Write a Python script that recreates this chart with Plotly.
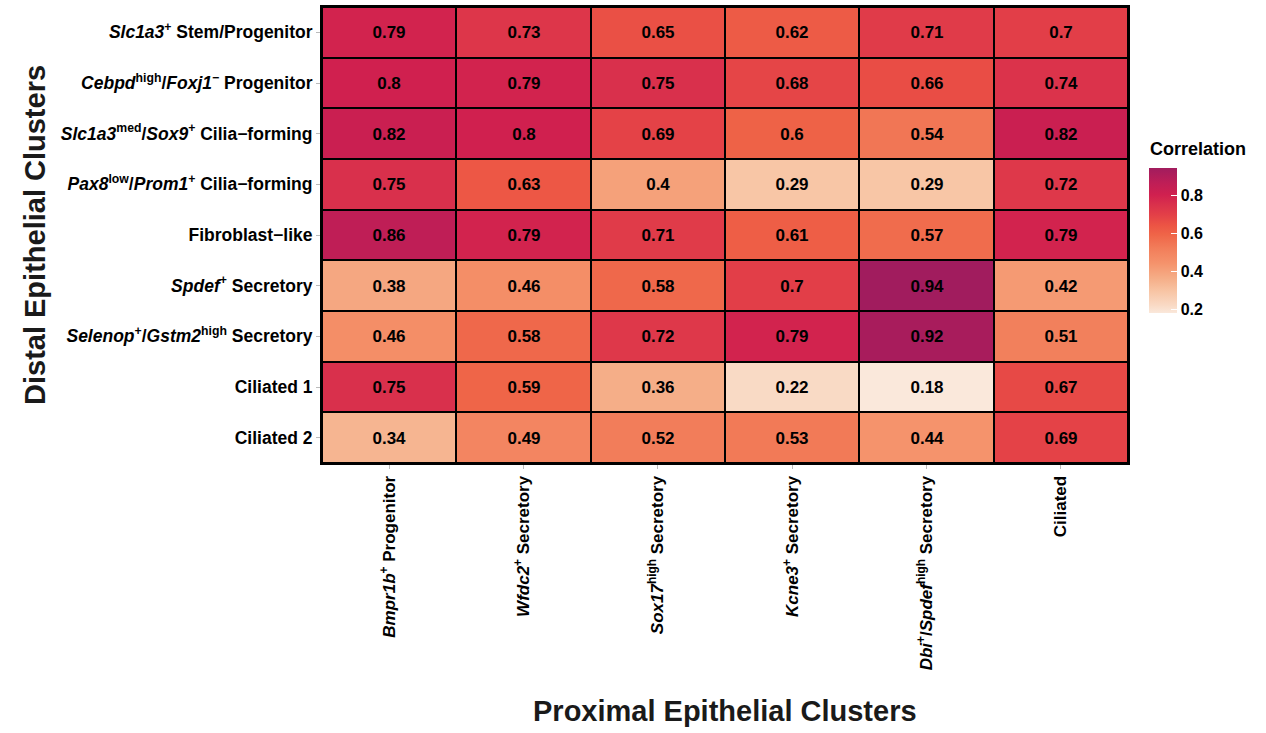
import plotly.graph_objects as go

# Proximal clusters (columns) and distal clusters (rows, top to bottom)
proximal = [
    "<i>Bmpr1b</i><sup>+</sup> Progenitor",
    "<i>Wfdc2</i><sup>+</sup> Secretory",
    "<i>Sox17</i><sup>high</sup> Secretory",
    "<i>Kcne3</i><sup>+</sup> Secretory",
    "<i>Dbi</i><sup>+</sup>/<i>Spdef</i><sup>high</sup> Secretory",
    "Ciliated",
]
distal = [
    "<i>Slc1a3</i><sup>+</sup> Stem/Progenitor",
    "<i>Cebpd</i><sup>high</sup>/<i>Foxj1</i><sup>\u2212</sup> Progenitor",
    "<i>Slc1a3</i><sup>med</sup>/<i>Sox9</i><sup>+</sup> Cilia\u2212forming",
    "<i>Pax8</i><sup>low</sup>/<i>Prom1</i><sup>+</sup> Cilia\u2212forming",
    "Fibroblast\u2212like",
    "<i>Spdef</i><sup>+</sup> Secretory",
    "<i>Selenop</i><sup>+</sup>/<i>Gstm2</i><sup>high</sup> Secretory",
    "Ciliated 1",
    "Ciliated 2",
]

# Correlation values, one list per distal cluster
corr_slc1a3 = [0.79, 0.73, 0.65, 0.62, 0.71, 0.7]
corr_cebpd = [0.8, 0.79, 0.75, 0.68, 0.66, 0.74]
corr_slc1a3_med = [0.82, 0.8, 0.69, 0.6, 0.54, 0.82]
corr_pax8 = [0.75, 0.63, 0.4, 0.29, 0.29, 0.72]
corr_fibro = [0.86, 0.79, 0.71, 0.61, 0.57, 0.79]
corr_spdef = [0.38, 0.46, 0.58, 0.7, 0.94, 0.42]
corr_selenop = [0.46, 0.58, 0.72, 0.79, 0.92, 0.51]
corr_cil1 = [0.75, 0.59, 0.36, 0.22, 0.18, 0.67]
corr_cil2 = [0.34, 0.49, 0.52, 0.53, 0.44, 0.69]

z = [corr_slc1a3, corr_cebpd, corr_slc1a3_med, corr_pax8, corr_fibro,
     corr_spdef, corr_selenop, corr_cil1, corr_cil2]

zmin, zmax = 0.18, 0.94

# Light peach -> orange -> crimson -> plum ramp
stops = [
    (0.18, "#FAE8DB"), (0.22, "#F9DAC5"), (0.29, "#F8C6A6"), (0.36, "#F5AE88"),
    (0.44, "#F5936C"), (0.52, "#F27D5A"), (0.59, "#EF6548"), (0.64, "#EC5444"),
    (0.70, "#E23E48"), (0.75, "#D9304C"), (0.80, "#D0204F"), (0.86, "#BF1E56"),
    (0.94, "#A11C5E"),
]
colorscale = [[(v - zmin) / (zmax - zmin), c] for v, c in stops]

font_family = "Liberation Sans, Arial, sans-serif"

# plot area in pixels: x 322..1128, y 5..463
plot_h = 458

fig = go.Figure(
    go.Heatmap(
        z=z,
        x=proximal,
        y=distal,
        zmin=zmin,
        zmax=zmax,
        colorscale=colorscale,
        xgap=2,
        ygap=2,
        texttemplate="%{z}",
        textfont=dict(family=font_family, size=17, color="black", weight="bold"),
        hoverinfo="skip",
        colorbar=dict(
            thickness=28,
            len=145,
            lenmode="pixels",
            x=1149 / 1266,
            xref="container",
            xanchor="left",
            y=(463 - 240) / plot_h,
            yref="paper",
            yanchor="middle",
            outlinewidth=0,
            xpad=0,
            ypad=0,
            tickvals=[0.2, 0.4, 0.6, 0.8],
            ticktext=["0.2", "0.4", "0.6", "0.8"],
            ticks="inside",
            ticklen=6,
            tickcolor="white",
            tickwidth=1,
            tickfont=dict(family=font_family, size=16, color="black", weight="bold"),
        ),
    )
)

fig.update_xaxes(
    side="bottom",
    tickangle=-90,
    tickfont=dict(family=font_family, size=17, color="black", weight="bold"),
    ticks="outside",
    ticklen=4,
    tickcolor="#BBBBBB",
    showline=True,
    mirror=True,
    linecolor="black",
    linewidth=2,
    showgrid=False,
    zeroline=False,
)
fig.update_yaxes(
    autorange="reversed",
    tickfont=dict(family=font_family, size=17.5, color="black", weight="bold"),
    ticks="outside",
    ticklen=4,
    tickcolor="#BBBBBB",
    showline=True,
    mirror=True,
    linecolor="black",
    linewidth=2,
    showgrid=False,
    zeroline=False,
)

fig.update_layout(
    width=1266,
    height=733,
    margin=dict(l=322, r=138, t=5, b=270),
    plot_bgcolor="black",
    paper_bgcolor="white",
    annotations=[
        dict(text="Correlation", xref="paper", yref="paper",
             x=(1148 - 322) / 806, y=(463 - 148) / plot_h,
             xanchor="left", yanchor="middle", showarrow=False,
             font=dict(family=font_family, size=18, color="black", weight="bold")),
        dict(text="Proximal Epithelial Clusters", xref="paper", yref="paper",
             x=0.5, y=-(712 - 463) / plot_h, xanchor="center", yanchor="middle",
             showarrow=False,
             font=dict(family=font_family, size=29, color="#1a1a1a", weight="bold")),
        dict(text="Distal Epithelial Clusters", xref="paper", yref="paper",
             x=-(322 - 35) / 806, y=0.5, xanchor="center", yanchor="middle",
             textangle=-90, showarrow=False,
             font=dict(family=font_family, size=29, color="#1a1a1a", weight="bold")),
    ],
)

fig.write_html("out.html")
